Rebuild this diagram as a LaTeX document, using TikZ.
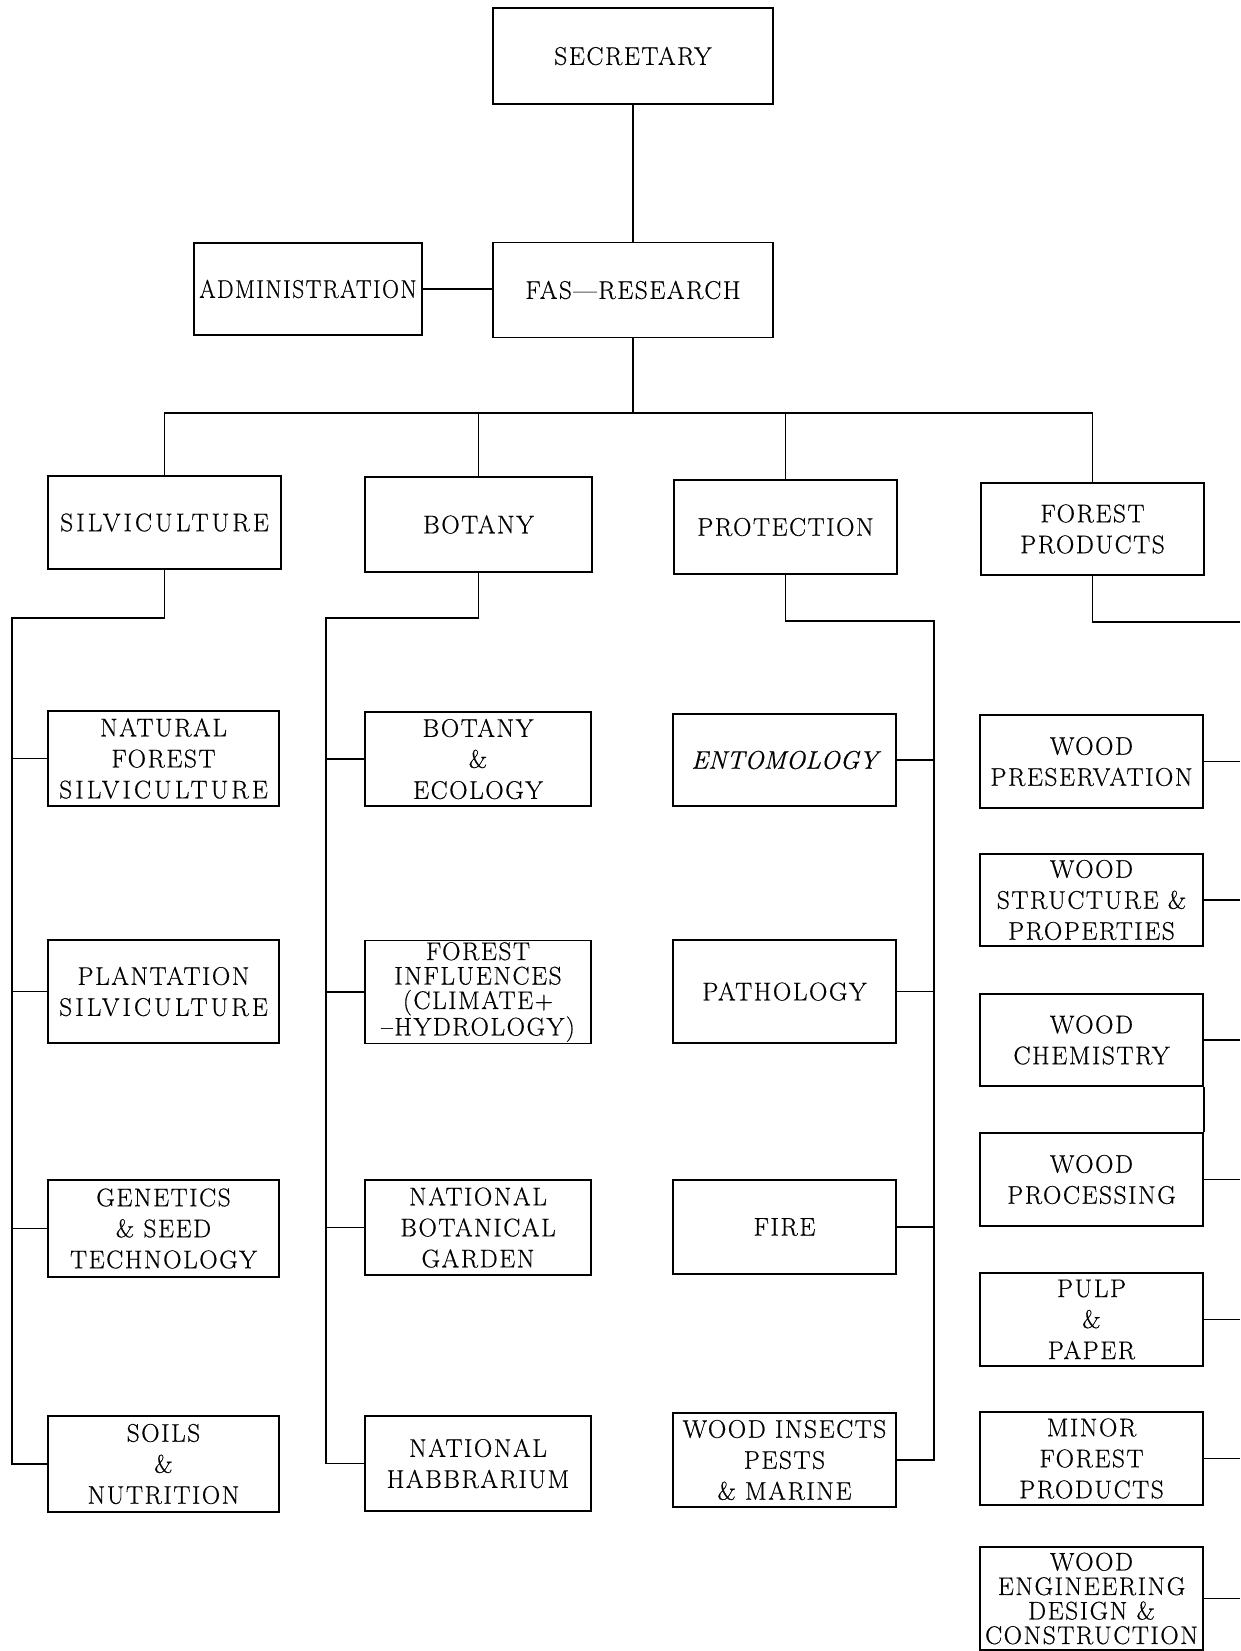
\documentclass[tikz,border=0pt]{standalone}
\usepackage{fontspec}
\setmainfont{Latin Modern Roman}[LetterSpace=6, FakeBold=0.5]
\newfontfamily\widefont{Latin Modern Roman}[LetterSpace=12, FakeBold=0.5]
\newfontfamily\plainfont{Latin Modern Roman}[FakeBold=0.5]
\usepackage{graphicx}
\begin{document}
\begin{tikzpicture}[x=1pt,y=-1pt,
  box/.style={draw, line width=1.7pt, inner sep=0pt, align=center,
    font=\fontsize{25.5}{31}\selectfont},
  tight/.style={font=\fontsize{25.5}{24.5}\selectfont},
  con/.style={line width=1.5pt}]
\useasboundingbox (0,0) rectangle (1240,1651);
% top
\node[box, minimum width=280pt, minimum height=96pt] (sec) at (633,56) {SECRETARY};
\node[box, minimum width=280pt, minimum height=95pt] (fas) at (633,290) {FAS---RESEARCH};
\node[box, minimum width=228pt, minimum height=92pt] (adm) at (308,289) {\scalebox{0.92}[1]{ADMINISTRATION}};
% level 2
\node[box, minimum width=233pt, minimum height=93pt] (silv) at (164.5,522.5) {\widefont SILVICULTURE};
\node[box, minimum width=227pt, minimum height=95pt] (bot) at (478.5,524.5) {BOTANY};
\node[box, minimum width=223pt, minimum height=94pt] (prot) at (785.5,527) {PROTECTION};
\node[box, minimum width=223pt, minimum height=92pt] (fp) at (1092.5,529) {FOREST\\PRODUCTS};
% column 1
\node[box, minimum width=231pt, minimum height=95pt] (nat) at (163.5,758.5) {NATURAL\\FOREST\\{\widefont SILVICULTURE}};
\node[box, minimum width=231pt, minimum height=103pt] (plant) at (163.5,991.5) {PLANTATION\\{\widefont SILVICULTURE}};
\node[box, minimum width=231pt, minimum height=97pt] (gen) at (163.5,1228.5) {GENETICS\\\& SEED\\TECHNOLOGY};
\node[box, minimum width=231pt, minimum height=96pt] (soils) at (163.5,1464) {SOILS\\\&\\NUTRITION};
% column 2
\node[box, minimum width=226pt, minimum height=94pt] (boteco) at (478,759) {BOTANY\\\&\\ECOLOGY};
\node[box, tight, minimum width=226pt, minimum height=103pt] (infl) at (478,992) {FOREST\\INFLUENCES\\(CLIMATE+\\--HYDROLOGY)};
\node[box, minimum width=226pt, minimum height=95pt] (nbg) at (478,1227.5) {NATIONAL\\BOTANICAL\\GARDEN};
\node[box, minimum width=226pt, minimum height=95pt] (herb) at (478,1463.5) {NATIONAL\\HABBRARIUM};
% column 3
\node[box, minimum width=223pt, minimum height=92pt] (ento) at (784.5,760) {\plainfont\itshape ENTOMOLOGY};
\node[box, minimum width=223pt, minimum height=103pt] (path) at (784.5,991.5) {PATHOLOGY};
\node[box, minimum width=223pt, minimum height=94pt] (fire) at (784.5,1227) {FIRE};
\node[box, minimum width=223pt, minimum height=94pt] (wip) at (784.5,1460) {WOOD INSECTS\\PESTS\\\& MARINE};
% column 4
\node[box, minimum width=223pt, minimum height=93pt] (wpres) at (1091.5,761.5) {WOOD\\PRESERVATION};
\node[box, minimum width=223pt, minimum height=92pt] (wstr) at (1091.5,900) {WOOD\\STRUCTURE \&\\PROPERTIES};
\node[box, minimum width=223pt, minimum height=92pt] (wchem) at (1091.5,1040) {WOOD\\CHEMISTRY};
\node[box, minimum width=223pt, minimum height=93pt] (wproc) at (1091.5,1179.5) {WOOD\\PROCESSING};
\node[box, minimum width=223pt, minimum height=93pt] (pulp) at (1091.5,1319.5) {PULP\\\&\\PAPER};
\node[box, minimum width=223pt, minimum height=93pt] (minor) at (1091.5,1458.5) {MINOR\\FOREST\\PRODUCTS};
\node[box, tight, minimum width=223pt, minimum height=103pt] (weng) at (1091.5,1598.5) {WOOD\\ENGINEERING\\DESIGN \&\\CONSTRUCTION};
% coordinates
\coordinate (bus) at (633,413);
\coordinate (c1) at (12,618);
\coordinate (c2) at (326,618);
\coordinate (c3) at (934,621);
\coordinate (c4) at (1240,622);
% top connectors
\draw[con] (sec.south) -- (fas.north);
\draw[con] (adm.east) -- (adm.east -| fas.west);
\draw[con] (fas.south) -- (bus);
\draw[con] (silv.north) |- (bus);
\draw[con] (fp.north) |- (bus);
\draw[con] (bot.north) -- (bot.north |- bus);
\draw[con] (prot.north) -- (prot.north |- bus);
% column 1
\draw[con] (silv.south) |- (c1) |- (soils.west);
\draw[con] (c1 |- nat.west) -- (nat.west);
\draw[con] (c1 |- plant.west) -- (plant.west);
\draw[con] (c1 |- gen.west) -- (gen.west);
% column 2
\draw[con] (bot.south) |- (c2) |- (herb.west);
\draw[con] (c2 |- boteco.west) -- (boteco.west);
\draw[con] (c2 |- infl.west) -- (infl.west);
\draw[con] (c2 |- nbg.west) -- (nbg.west);
% column 3
\draw[con] (prot.south) |- (c3) |- (wip.east);
\draw[con] (c3 |- ento.east) -- (ento.east);
\draw[con] (c3 |- path.east) -- (path.east);
\draw[con] (c3 |- fire.east) -- (fire.east);
% column 4
\draw[con] (fp.south) |- (c4);
\draw[con] (wpres.east) -- (c4 |- wpres.east);
\draw[con] (wstr.east) -- (c4 |- wstr.east);
\draw[con] (wchem.east) -- (c4 |- wchem.east);
\draw[con] (wproc.east) -- (c4 |- wproc.east);
\draw[con] (pulp.east) -- (c4 |- pulp.east);
\draw[con] (minor.east) -- (c4 |- minor.east);
\draw[con] (weng.east) -- (c4 |- weng.east);
\draw[con] (wchem.south east) -- (wproc.north east);
\end{tikzpicture}
\end{document}
